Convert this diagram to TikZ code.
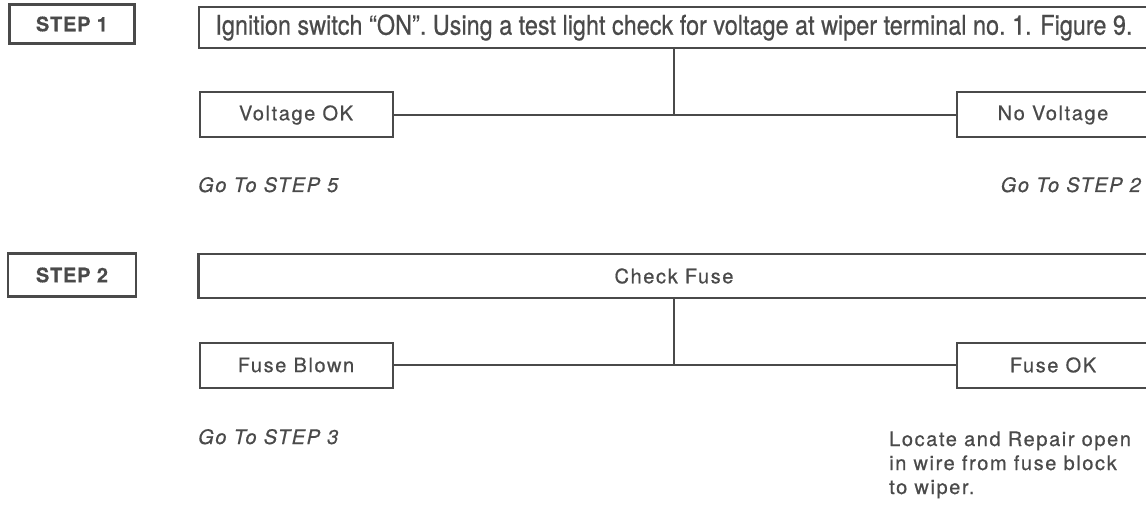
\documentclass[tikz,border=0pt]{standalone}
\usepackage{fontspec}
\usepackage{graphicx}
\newfontfamily\hv[LetterSpace=8,FakeBold=0.6]{TeX Gyre Heros}
\newfontfamily\hvstep[LetterSpace=4,FakeBold=0.4]{TeX Gyre Heros}
\newfontfamily\hvplain[FakeBold=0.6]{TeX Gyre Heros}
\definecolor{ink}{HTML}{4A4A4A}
\tikzset{
  stepbox/.style={draw=ink, line width=2.5pt, inner sep=0pt, text=ink,
    font=\hvstep\bfseries\fontsize{20}{24}\selectfont},
  widebox/.style={draw=ink, line width=2.5pt, inner sep=0pt, text=ink,
    font=\hvplain\fontsize{18}{22}\selectfont},
  answerbox/.style={draw=ink, line width=2pt, inner sep=0pt, text=ink,
    minimum width=193pt, minimum height=45pt,
    font=\hv\fontsize{20}{24}\selectfont},
  conn/.style={draw=ink, line width=2pt},
  goto/.style={text=ink, inner sep=0pt, font=\hv\itshape\fontsize{20}{24}\selectfont},
  note/.style={text=ink, inner sep=0pt, align=left,
    font=\hv\fontsize{20}{24}\selectfont}
}
\begin{document}
\begin{tikzpicture}[x=1pt,y=-1pt]
\useasboundingbox[fill=white] (0,0) rectangle (1146,505);
% STEP 1
\node[stepbox, minimum width=125pt, minimum height=39pt] (s1) at (72,24) {STEP 1};
\node[widebox, minimum width=950pt, minimum height=41pt] (q1) at (674,27.5)
  {\resizebox{917pt}{!}{\scalebox{0.86}[1]{\fontsize{21}{24}\selectfont Ignition switch “ON”. Using a test light check for voltage at wiper terminal no.~1. Figure~9.}}};
\node[answerbox] (vok) at (296,115) {Voltage OK};
\node[answerbox] (nov) at (1053,115) {No Voltage};
\coordinate (j1) at (q1.south |- vok.east);
\draw[conn] (q1.south) -- (j1);
\draw[conn] (vok.east) -- (nov.west);
\node[goto, anchor=base west] (g5) at (198,192) {Go To STEP 5};
\node[goto, anchor=base east] (g2) at (1141,192) {Go To STEP 2};
% STEP 2
\node[stepbox, minimum width=128pt, minimum height=43pt] (s2) at (72,275) {STEP 2};
\node[widebox, minimum width=951pt, minimum height=44pt,
  font=\hv\fontsize{20}{24}\selectfont] (q2) at (674,276) {Check Fuse};
\node[answerbox] (fb) at (296,365) {Fuse Blown};
\node[answerbox] (fok) at (1053,365) {Fuse OK};
\coordinate (j2) at (q2.south |- fb.east);
\draw[conn] (q2.south) -- (j2);
\draw[conn] (fb.east) -- (fok.west);
\node[goto, anchor=base west] (g3) at (198,444) {Go To STEP 3};
\node[note, anchor=base west] (rep) at (889,494)
  {Locate and Repair open\\in wire from fuse block\\to wiper.};
\end{tikzpicture}
\end{document}
